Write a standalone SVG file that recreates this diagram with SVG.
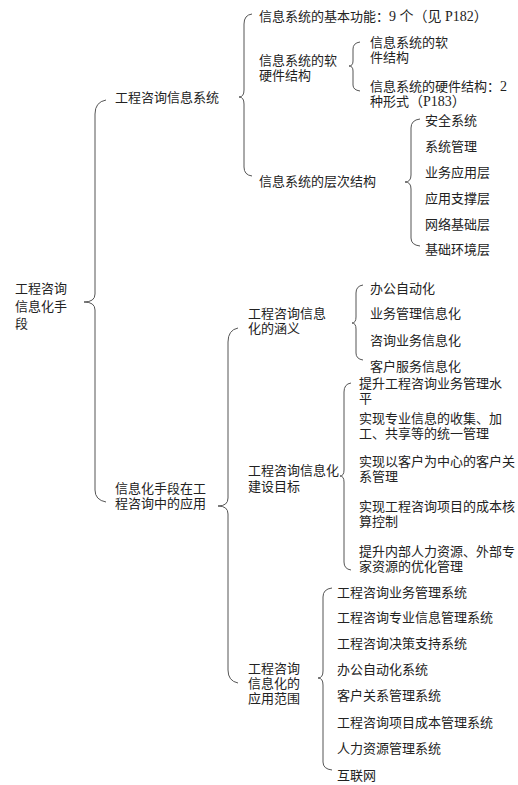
<svg xmlns="http://www.w3.org/2000/svg" width="518" height="785" viewBox="0 0 518 785">
<style>
text{font-family:"Noto Sans CJK SC","Noto Sans",sans-serif;font-size:13px;fill:#222}
.s{font-family:"Liberation Serif","Noto Sans CJK SC",serif;font-size:14px}
.br{fill:none;stroke:#555;stroke-width:1}
</style>
<rect width="518" height="785" fill="#fff"/>
<g id="connectors">
<path class="br" d="M106 100 Q95 102 95 114 L95 294 Q95 302 84 302 Q95 302 95 310 L95 490 Q95 500 106 502"/>
<path class="br" d="M252 14 Q244 15 244 24 L244 90 Q244 97 239 97 Q244 97 244 104 L244 167 Q244 175 252 176"/>
<path class="br" d="M360 42 Q353 43 353 49 L353 61 Q353 66 349 66 Q353 66 353 71 L353 85 Q353 90 360 91"/>
<path class="br" d="M420 119 Q411 120 411 128 L411 175 Q411 182 405 182 Q411 182 411 189 L411 238 Q411 245 420 246"/>
<path class="br" d="M238 328 Q228 330 228 342 L228 498 Q228 506 218 506 Q228 506 228 514 L228 670 Q228 681 238 683"/>
<path class="br" d="M363 285 Q356 286 356 293 L356 317 Q356 323 352 323 Q356 323 356 329 L356 353 Q356 359 363 360"/>
<path class="br" d="M351 383 Q344 384 344 392 L344 470 Q344 476 340 476 Q344 476 344 482 L344 562 Q344 569 351 570"/>
<path class="br" d="M332 588 Q323 589 323 597 L323 671 Q323 678 318 678 Q323 678 323 685 L323 762 Q323 769 332 770"/>
</g>
<g id="root"><text x="15" y="293">工程咨询</text><text x="15" y="311">信息化手</text><text x="15" y="328">段</text></g>
<g id="n1"><text x="115" y="102">工程咨询信息系统</text></g>
<g id="n1a"><text x="259" y="21">信息系统的基本功能：<tspan class="s">9 个（见 P182）</tspan></text></g>
<g id="n1b"><text x="259" y="65">信息系统的软</text><text x="259" y="80">硬件结构</text></g>
<g id="n1b1"><text x="370" y="47">信息系统的软</text><text x="370" y="62">件结构</text></g>
<g id="n1b2"><text x="370" y="91">信息系统的硬件结构：<tspan class="s">2</tspan></text><text x="370" y="106">种形式<tspan class="s">（P183）</tspan></text></g>
<g id="n1c"><text x="259" y="186">信息系统的层次结构</text></g>
<g id="n1c1"><text x="425" y="125">安全系统</text></g>
<g id="n1c2"><text x="425" y="151">系统管理</text></g>
<g id="n1c3"><text x="425" y="177">业务应用层</text></g>
<g id="n1c4"><text x="425" y="203">应用支撑层</text></g>
<g id="n1c5"><text x="425" y="229">网络基础层</text></g>
<g id="n1c6"><text x="425" y="254">基础环境层</text></g>
<g id="n2"><text x="115" y="493">信息化手段在工</text><text x="115" y="508">程咨询中的应用</text></g>
<g id="n2a"><text x="248" y="318">工程咨询信息</text><text x="248" y="333">化的涵义</text></g>
<g id="n2a1"><text x="370" y="293">办公自动化</text></g>
<g id="n2a2"><text x="370" y="318">业务管理信息化</text></g>
<g id="n2a3"><text x="370" y="345">咨询业务信息化</text></g>
<g id="n2a4"><text x="370" y="371">客户服务信息化</text></g>
<g id="n2b"><text x="248" y="475">工程咨询信息化</text><text x="248" y="491">建设目标</text></g>
<g id="n2b1"><text x="359" y="388">提升工程咨询业务管理水</text><text x="359" y="403">平</text></g>
<g id="n2b2"><text x="359" y="423">实现专业信息的收集、加</text><text x="359" y="438">工、共享等的统一管理</text></g>
<g id="n2b3"><text x="359" y="466">实现以客户为中心的客户关</text><text x="359" y="481">系管理</text></g>
<g id="n2b4"><text x="359" y="511">实现工程咨询项目的成本核</text><text x="359" y="526">算控制</text></g>
<g id="n2b5"><text x="359" y="556">提升内部人力资源、外部专</text><text x="359" y="571">家资源的优化管理</text></g>
<g id="n2c"><text x="248" y="673">工程咨询</text><text x="248" y="688">信息化的</text><text x="248" y="703">应用范围</text></g>
<g id="n2c1"><text x="337" y="597">工程咨询业务管理系统</text></g>
<g id="n2c2"><text x="337" y="622">工程咨询专业信息管理系统</text></g>
<g id="n2c3"><text x="337" y="648">工程咨询决策支持系统</text></g>
<g id="n2c4"><text x="337" y="674">办公自动化系统</text></g>
<g id="n2c5"><text x="337" y="700">客户关系管理系统</text></g>
<g id="n2c6"><text x="337" y="727">工程咨询项目成本管理系统</text></g>
<g id="n2c7"><text x="337" y="753">人力资源管理系统</text></g>
<g id="n2c8"><text x="337" y="780">互联网</text></g>
</svg>
